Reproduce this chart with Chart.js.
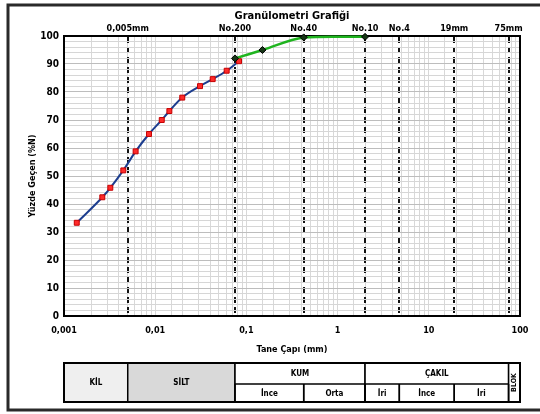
<!DOCTYPE html>
<html lang="tr">
<head>
<meta charset="utf-8">
<title>Granülometri Grafiği</title>
<script src="https://cdn.jsdelivr.net/npm/chart.js@4.4.1/dist/chart.umd.min.js"></script>
<style>
  html, body { margin: 0; padding: 0; background: #fff; }
  #wrap { width: 540px; height: 414px; }
</style>
</head>
<body>
<div id="wrap"><canvas id="c" width="540" height="414"></canvas></div>
<script>
// Hydrometer (fine fraction) results: grain size (mm) and percent passing
const finesSize    = [0.00138, 0.00263, 0.00322, 0.00447, 0.0061, 0.00855, 0.0118, 0.0143, 0.0198, 0.031, 0.0427, 0.0608, 0.083];
const finesPassing = [33.3, 42.4, 45.8, 52.0, 58.8, 65.0, 70.0, 73.2, 78.0, 82.1, 84.6, 87.6, 91.0];

// Sieve analysis results
const sieveSize    = [0.075, 0.15, 0.425, 2.0];
const sievePassing = [92.0, 95.0, 99.5, 99.7];

// Reference sizes marked with dashed lines along the top axis
const markSizes  = [0.005, 0.075, 0.425, 2, 4.75, 19, 75];
const markLabels = ['0,005mm', 'No.200', 'No.40', 'No.10', 'No.4', '19mm', '75mm'];

// Bottom axis labels (decades) and left axis labels
const decadeValues = [0.001, 0.01, 0.1, 1, 10, 100];
const decadeLabels = ['0,001', '0,01', '0,1', '1', '10', '100'];
const yTickValues  = [0, 10, 20, 30, 40, 50, 60, 70, 80, 90, 100];
const yTickLabels  = ['0', '10', '20', '30', '40', '50', '60', '70', '80', '90', '100'];

// Soil classification bands below the chart
const bandMain = [
  { from: 0.001, to: 0.005, text: 'KİL',   fill: '#efefef' },
  { from: 0.005, to: 0.075, text: 'SİLT',  fill: '#d9d9d9' },
  { from: 0.075, to: 2,     text: 'KUM',   fill: '#ffffff', split: true },
  { from: 2,     to: 75,    text: 'ÇAKIL', fill: '#ffffff', split: true },
  { from: 75,    to: 100,   text: 'BLOK',  fill: '#ffffff', vertical: true }
];
const bandSub = [
  { from: 0.075, to: 0.425, text: 'İnce' },
  { from: 0.425, to: 2,     text: 'Orta' },
  { from: 2,     to: 4.75,  text: 'İri' },
  { from: 4.75,  to: 19,    text: 'İnce' },
  { from: 19,    to: 75,    text: 'İri' }
];

const FONT = "'Liberation Sans Narrow', 'Arial Narrow', 'DejaVu Sans Condensed', 'Liberation Sans', sans-serif";

function findLabel(v, values, labels) {
  for (let i = 0; i < values.length; i++) {
    if (Math.abs(Math.log10(v) - Math.log10(values[i])) < 1e-6) return labels[i];
  }
  return '';
}

// Outer frame and classification table
const framePlugin = {
  id: 'frameAndTable',
  afterDraw(chart) {
    const ctx = chart.ctx;
    const xs = chart.scales.x;
    const px = v => xs.getPixelForValue(v);
    const top = 363, mid = 384, bot = 402;

    ctx.save();
    // classification cells
    ctx.lineWidth = 1.5;
    ctx.strokeStyle = '#000';
    ctx.fillStyle = '#000';
    ctx.textAlign = 'center';
    ctx.textBaseline = 'middle';
    bandMain.forEach(b => {
      const x1 = px(b.from), x2 = px(b.to);
      ctx.fillStyle = b.fill;
      ctx.fillRect(x1, top, x2 - x1, bot - top);
      ctx.strokeRect(x1, top, x2 - x1, bot - top);
      ctx.fillStyle = '#000';
      ctx.font = 'bold 8px ' + FONT;
      if (b.vertical) {
        ctx.save();
        ctx.translate((x1 + x2) / 2, (top + bot) / 2);
        ctx.rotate(-Math.PI / 2);
        ctx.font = 'bold 7px ' + FONT;
        ctx.fillText(b.text, 0, 0);
        ctx.restore();
      } else if (b.split) {
        ctx.fillText(b.text, (x1 + x2) / 2, (top + mid) / 2 + 0.5);
        ctx.beginPath();
        ctx.moveTo(x1, mid);
        ctx.lineTo(x2, mid);
        ctx.stroke();
      } else {
        ctx.fillText(b.text, (x1 + x2) / 2, (top + bot) / 2 + 0.5);
      }
    });
    bandSub.forEach(b => {
      const x1 = px(b.from), x2 = px(b.to);
      ctx.beginPath();
      ctx.moveTo(x1, mid);
      ctx.lineTo(x1, bot);
      ctx.moveTo(x2, mid);
      ctx.lineTo(x2, bot);
      ctx.stroke();
      ctx.font = 'bold 8px ' + FONT;
      ctx.fillText(b.text, (x1 + x2) / 2, (mid + bot) / 2 + 0.5);
    });
    ctx.lineWidth = 2;
    ctx.strokeRect(px(0.001), top, px(100) - px(0.001), bot - top);

    // page frame
    ctx.lineWidth = 3;
    ctx.strokeStyle = '#2a2a2a';
    ctx.strokeRect(8, 5, 560, 405);
    ctx.restore();
  }
};

const tickFont = { family: FONT, size: 10, weight: 'bold' };

new Chart(document.getElementById('c'), {
  type: 'line',
  data: {
    datasets: [
      {
        label: 'Hidrometre',
        data: finesSize.map((s, i) => ({ x: s, y: finesPassing[i] })),
        borderColor: '#1c3d8f',
        borderWidth: 2,
        pointStyle: 'rect',
        pointRadius: 3.5,
        pointBackgroundColor: '#ff2a2a',
        pointBorderColor: '#c40000',
        pointBorderWidth: 1,
        cubicInterpolationMode: 'monotone',
        xAxisID: 'x',
        yAxisID: 'y',
        order: 1
      },
      {
        label: 'Elek',
        data: sieveSize.map((s, i) => ({ x: s, y: sievePassing[i] })),
        borderColor: '#1fb41f',
        borderWidth: 2.5,
        pointStyle: 'rectRot',
        pointRadius: 3.5,
        pointBackgroundColor: '#163516',
        pointBorderColor: '#000',
        pointBorderWidth: 1,
        tension: 0.35,
        clip: 8,
        xAxisID: 'x',
        yAxisID: 'y',
        order: 0
      }
    ]
  },
  options: {
    responsive: false,
    animation: false,
    devicePixelRatio: 1,
    layout: { padding: { left: 0, right: 0, top: 0, bottom: 54 } },
    plugins: {
      legend: { display: false },
      tooltip: { enabled: false },
      title: { display: false }
    },
    scales: {
      x: {
        type: 'logarithmic',
        position: 'bottom',
        min: 0.001,
        max: 100,
        grid: { color: '#d8d8d8', lineWidth: 1, drawTicks: false },
        border: { display: true, color: '#000', width: 2 },
        ticks: {
          autoSkip: false,
          maxRotation: 0,
          padding: 9,
          color: '#000',
          font: { family: FONT, size: 9, weight: 'bold' },
          callback: v => findLabel(v, decadeValues, decadeLabels)
        },
        title: {
          display: true,
          text: 'Tane Çapı (mm)',
          color: '#000',
          font: { family: FONT, size: 9, weight: 'bold' },
          padding: { top: 0, bottom: 4.6 }
        },
        afterFit: s => { s.height = 44; }
      },
      x2: {
        type: 'logarithmic',
        position: 'top',
        min: 0.001,
        max: 100,
        afterBuildTicks: s => { s.ticks = markSizes.map(v => ({ value: v })); },
        grid: { color: '#111', lineWidth: 2, drawTicks: false },
        border: { display: true, color: '#000', width: 2, dash: [6, 4] },
        ticks: {
          autoSkip: false,
          maxRotation: 0,
          padding: 2,
          color: '#000',
          font: { family: FONT, size: 9, weight: 'bold' },
          callback: v => findLabel(v, markSizes, markLabels)
        },
        title: {
          display: true,
          text: 'Granülometri Grafiği',
          color: '#000',
          font: { family: FONT, size: 11, weight: 'bold' },
          padding: { top: 9.4, bottom: 0 }
        },
        afterFit: s => { s.height = 36; }
      },
      y: {
        type: 'linear',
        position: 'left',
        min: 0,
        max: 100,
        grid: {
          color: c => (c.tick && c.tick.value % 10 === 0) ? '#bdbdbd' : '#d6d6d6',
          lineWidth: 1,
          drawTicks: false
        },
        border: { display: true, color: '#000', width: 2 },
        ticks: {
          stepSize: 2,
          autoSkip: false,
          padding: 5,
          color: '#000',
          font: tickFont,
          callback: v => {
            const i = yTickValues.indexOf(v);
            return i >= 0 ? yTickLabels[i] : '';
          }
        },
        title: {
          display: true,
          text: 'Yüzde Geçen (%N)',
          color: '#000',
          font: { family: FONT, size: 9, weight: 'bold' },
          padding: { top: 27.6, bottom: 0 }
        },
        afterFit: s => { s.width = 64; }
      },
      y2: {
        type: 'linear',
        position: 'right',
        min: 0,
        max: 100,
        grid: { drawOnChartArea: false, drawTicks: false },
        border: { display: true, color: '#000', width: 2 },
        ticks: { display: false },
        afterFit: s => { s.width = 20; }
      }
    }
  },
  plugins: [framePlugin]
});
</script>
</body>
</html>
